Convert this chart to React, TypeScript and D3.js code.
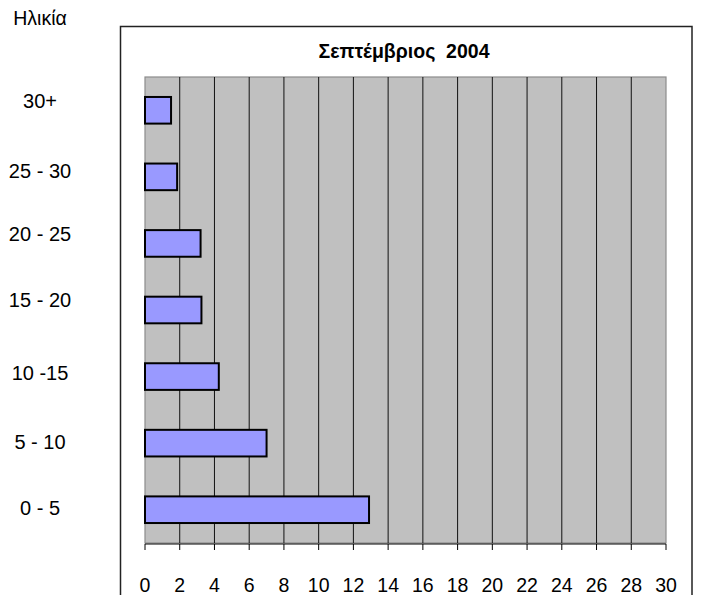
import React from "react";
import * as d3 from "d3";

const categories = ["30+", "25 - 30", "20 - 25", "15 - 20", "10 -15", "5 - 10", "0 - 5"];
const values = [1.5, 1.85, 3.2, 3.25, 4.25, 7.0, 12.9];
const labelY = [101, 171, 234, 300, 373, 442, 508];
const xTicks = d3.range(0, 31, 2);
const title = "Σεπτέμβριος  2004";
const yTitle = "Ηλικία";

export default function App() {
  const W = 705, H = 595;
  const plot = { left: 145, right: 666, top: 77, bottom: 543 };
  const x = d3.scaleLinear().domain([0, 30]).range([plot.left, plot.right]);
  const y = d3.scaleBand<string>().domain(categories).range([plot.top, plot.bottom]).paddingInner(0.6).paddingOuter(0.3);
  const font = "'Liberation Sans', Arial, sans-serif";
  return (
    <svg width={W} height={H} style={{ position: "absolute", left: 0, top: 0 }} fontFamily={font}>
      <rect x={0} y={0} width={W} height={H} fill="#fff" />
      <rect x={120.5} y={26.5} width={571.5} height={600} fill="#fff" stroke="#222" strokeWidth={1.5} />
      <text x={404} y={58} textAnchor="middle" fontSize={19.5} fontWeight="bold" style={{ whiteSpace: "pre" }}>{title}</text>
      <rect x={plot.left} y={plot.top} width={plot.right - plot.left} height={plot.bottom - plot.top} fill="#C0C0C0" stroke="#8c8c8c" strokeWidth={1.2} />
      {xTicks.filter(t => t > 0 && t < 30).map(t => (
        <line key={"g" + t} x1={x(t)} x2={x(t)} y1={plot.top} y2={plot.bottom} stroke="#111" strokeWidth={1} />
      ))}
      {categories.map((c, i) => (
        <rect key={c} x={x(0)} y={y(c)} width={x(values[i]) - x(0)} height={y.bandwidth()} fill="#9999FF" stroke="#000" strokeWidth={2} />
      ))}
      <line x1={plot.left} x2={plot.right} y1={544} y2={544} stroke="#000" strokeWidth={1} />
      {xTicks.map(t => (
        <g key={"t" + t}>
          <line x1={x(t)} x2={x(t)} y1={544} y2={550} stroke="#000" strokeWidth={1} />
          <text x={x(t)} y={591.5} textAnchor="middle" fontSize={19.5}>{t}</text>
        </g>
      ))}
      <text x={40} y={25} textAnchor="middle" fontSize={19.5}>{yTitle}</text>
      {categories.map((c, i) => (
        <text key={"l" + c} x={40} y={labelY[i] + 7} textAnchor="middle" fontSize={20}>{c}</text>
      ))}
    </svg>
  );
}
